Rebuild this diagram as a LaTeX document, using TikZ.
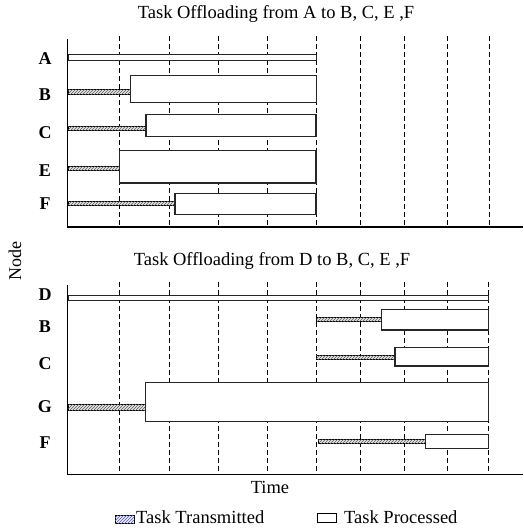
\documentclass[tikz,border=0pt]{standalone}
\usepackage{fontspec}
\setmainfont{Liberation Serif}
\usetikzlibrary{patterns}

\tikzset{
  axis/.style={line width=1.4pt},
  gridline/.style={line width=0.9pt, dash pattern=on 4.5pt off 3.5pt},
  sent/.style={draw=black, line width=0.9pt, fill=gray!20,
    postaction={pattern=north east lines, pattern color=black!65}},
  proc/.style={draw=black!85, line width=1.1pt, fill=white},
  lab/.style={font=\fontsize{18}{19}\selectfont\bfseries},
  txt/.style={font=\fontsize{18.5}{20}\selectfont, anchor=base},
}

\begin{document}
\begin{tikzpicture}[x=1pt, y=-1pt]
  \useasboundingbox (0,0) rectangle (523,531);

  % upper chart: offloading from A
  \node[txt] (ttop) at (276,18.3) {Task Offloading from A to B, C, E ,F};
  \foreach \x in {119.3,169.3,218.3,267.7,316,360.7,404,447.3,489.3}
    \draw[gridline] (\x,36) -- (\x,227);
  \draw[axis] (67.7,39) -- (67.7,227) -- (523,227);

  \draw[proc, line width=0.9pt] (68,54.3) rectangle (316,60);
  \draw[sent] (68,89.5) rectangle (130.3,94);
  \draw[proc] (130.3,75.3) rectangle (316.7,102.7);
  \draw[sent] (68,126) rectangle (146,130);
  \draw[proc] (146,114.7) rectangle (316,136.7);
  \draw[sent] (68,166.5) rectangle (119.3,170.5);
  \draw[proc] (119.3,150.7) rectangle (316,183);
  \draw[sent] (68,201.3) rectangle (175,205.7);
  \draw[proc] (175,193.3) rectangle (316,214.3);

  \node[lab] (a1) at (45,59) {A};
  \node[lab] (b1) at (45,94.3) {B};
  \node[lab] (c1) at (45,132.3) {C};
  \node[lab] (e1) at (45,170.7) {E};
  \node[lab] (f1) at (45,204) {F};

  % lower chart: offloading from D
  \node[txt] (tbot) at (272,265) {Task Offloading from D to B, C, E ,F};
  \foreach \x in {119.3,169,218.3,267.7,316,360.7,404,447.3,488.7}
    \draw[gridline] (\x,282) -- (\x,474.3);
  \draw[axis] (67.7,285) -- (67.7,474.3) -- (523,474.3);

  \draw[proc, line width=0.9pt] (68,295.3) rectangle (488.7,300);
  \draw[sent] (316.7,317.7) rectangle (381.7,321.7);
  \draw[proc] (381.7,309.3) rectangle (488.7,330);
  \draw[sent] (316,355) rectangle (395,359.3);
  \draw[proc] (395,347.7) rectangle (488.7,366);
  \draw[sent] (68,404.3) rectangle (145.7,410);
  \draw[proc] (145.7,382.7) rectangle (488.7,421.7);
  \draw[sent] (318.3,439.3) rectangle (425.7,443.3);
  \draw[proc] (425.7,434.3) rectangle (488.7,448.7);

  \node[lab] (d2) at (45,295) {D};
  \node[lab] (b2) at (45,326.2) {B};
  \node[lab] (c2) at (45,363.3) {C};
  \node[lab] (g2) at (45,406.7) {G};
  \node[lab] (f2) at (45,442.7) {F};

  % axis titles
  \node[font=\fontsize{18}{20}\selectfont, rotate=90] (ylab) at (15,261) {Node};
  \node[txt] (xlab) at (270,493.3) {Time};

  % legend
  \draw[line width=0.8pt, fill=blue!8,
    postaction={pattern=north east lines, pattern color=blue!30!gray}]
    (115,515) rectangle (134.3,523.3);
  \node[txt, anchor=base west, inner sep=0pt] (lsent) at (136,523.3) {Task Transmitted};
  \draw[line width=1pt, fill=white] (317.3,513.7) rectangle (336,522.7);
  \node[txt, anchor=base west, inner sep=0pt] (lproc) at (344,523.3) {Task Processed};
\end{tikzpicture}
\end{document}
